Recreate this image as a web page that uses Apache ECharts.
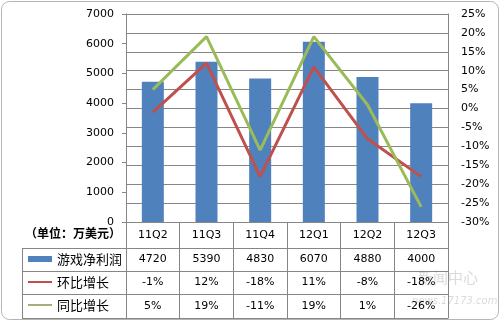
<!DOCTYPE html>
<html><head><meta charset="utf-8">
<script src="https://cdn.jsdelivr.net/npm/echarts@6/dist/echarts.min.js"></script>
<style>html,body{margin:0;padding:0;background:#fff}#c{width:503px;height:325px}</style>
</head><body><div id="c"></div>
<script>
const categories = ['11Q2','11Q3','11Q4','12Q1','12Q2','12Q3'];
const profit = [4720, 5390, 4830, 6070, 4880, 4000];
const qoq = [-1, 12, -18, 11, -8, -18];
const yoy = [5, 19, -11, 19, 1, -26];
const names = ['游戏净利润', '环比增长', '同比增长'];
const unitLabel = '（单位：万美元）';
const leftTicks = {min: 0, max: 7000, interval: 1000};
const rightTicks = {min: -30, max: 25, interval: 5};

const NUM = 'DejaVu Sans';
const CJK = 'Noto Sans CJK SC';
const GRID = '#868686';
const L = 126, R = 448, T = 14, B = 222;
const rows = [248, 271, 294, 318];

const chart = echarts.init(document.getElementById('c'), null, {renderer: 'canvas'});
const graphics = [
  {type: 'rect', shape: {x: 1.5, y: 1.5, width: 497, height: 318, r: 8}, style: {fill: 'none', stroke: '#b5b5b5', lineWidth: 1}, z: -1},
  {type: 'text', left: 25, top: 227, style: {text: unitLabel, font: 'bold 12px "' + CJK + '"', fill: '#000'}},
  {type: 'line', shape: {x1: 22.5, y1: rows[0], x2: 22.5, y2: rows[3]}, style: {stroke: GRID, lineWidth: 1}},
  {type: 'text', left: 418, top: 270, style: {text: '新闻中心', font: '15px "' + CJK + '"', fill: 'rgba(150,150,150,0.35)'}},
  {type: 'text', left: 412, top: 296, style: {text: 'news.17173.com', font: 'italic 10px "' + NUM + '"', fill: 'rgba(150,150,150,0.35)'}}
];
rows.forEach(y => graphics.push({type: 'line', shape: {x1: 22, y1: y + 0.5, x2: R + 0.5, y2: y + 0.5}, style: {stroke: GRID, lineWidth: 1}}));

chart.setOption({
  backgroundColor: '#fff',
  animation: false,
  textStyle: {fontFamily: NUM},
  grid: {left: L, right: 503 - R, top: T, bottom: 325 - B, containLabel: false, outerBoundsMode: 'none'},
  legend: {
    orient: 'vertical', left: 27, top: 251, padding: 0, itemGap: 7, itemWidth: 24, itemHeight: 6,
    textStyle: {fontFamily: CJK, fontSize: 13, color: '#000', lineHeight: 16},
    data: [
      {name: names[0], icon: 'rect'},
      {name: names[1], lineStyle: {width: 2}, itemStyle: {opacity: 0}},
      {name: names[2], lineStyle: {width: 2, color: '#a7ad7a'}, itemStyle: {opacity: 0}}
    ]
  },
  xAxis: {
    type: 'category', data: categories, boundaryGap: true,
    axisLine: {show: true, lineStyle: {color: GRID}},
    axisTick: {show: true, length: 96, interval: 0, alignWithLabel: false, lineStyle: {color: GRID}},
    axisLabel: {
      margin: 0, interval: 0, color: '#000',
      formatter: (v, i) => `{h|${v}}\n{a|${profit[i]}}\n{b|${qoq[i]}%}\n{c|${yoy[i]}%}`,
      rich: {
        h: {fontFamily: NUM, fontSize: 11, lineHeight: 26},
        a: {fontFamily: NUM, fontSize: 11, lineHeight: 23},
        b: {fontFamily: NUM, fontSize: 11, lineHeight: 23},
        c: {fontFamily: NUM, fontSize: 11, lineHeight: 24}
      }
    }
  },
  yAxis: [
    {
      type: 'value', position: 'left', min: leftTicks.min, max: leftTicks.max, interval: leftTicks.interval,
      axisLine: {show: true, lineStyle: {color: GRID}},
      axisTick: {show: true, length: 4, lineStyle: {color: GRID}},
      splitLine: {show: false},
      axisLabel: {color: '#000', fontFamily: NUM, fontSize: 11, margin: 12, formatter: v => String(v)}
    },
    {
      type: 'value', position: 'right', min: rightTicks.min, max: rightTicks.max, interval: rightTicks.interval,
      axisLine: {show: true, lineStyle: {color: GRID}},
      axisTick: {show: false},
      splitLine: {show: true, lineStyle: {color: GRID, width: 1}},
      axisLabel: {color: '#000', fontFamily: NUM, fontSize: 11, margin: 13, formatter: v => v + '%'}
    }
  ],
  series: [
    {name: names[0], type: 'bar', yAxisIndex: 0, data: profit, barWidth: 22, itemStyle: {color: '#4F81BD'}},
    {name: names[1], type: 'line', yAxisIndex: 1, data: qoq, symbol: 'none', lineStyle: {color: '#C0504D', width: 3}, itemStyle: {color: '#C0504D'}},
    {name: names[2], type: 'line', yAxisIndex: 1, data: yoy, symbol: 'none', lineStyle: {color: '#9BBB59', width: 3}, itemStyle: {color: '#9BBB59'}}
  ],
  graphic: graphics
});
</script></body></html>
